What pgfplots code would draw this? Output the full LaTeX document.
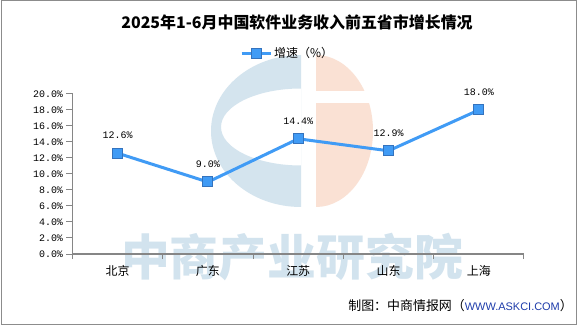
\documentclass[border=0pt]{standalone}
\usepackage{pgfplots}
\pgfplotsset{compat=1.18}
\usepackage{fontspec}
\setmainfont{Liberation Sans}
\newfontfamily\cjk{Noto Sans CJK SC}
\newfontfamily\mono{Liberation Mono}
\definecolor{lineblue}{RGB}{64,155,245}
\definecolor{markedge}{RGB}{52,115,190}
\definecolor{logoblue}{RGB}{212,228,238}
\definecolor{logopink}{RGB}{250,225,212}
\definecolor{wmblue}{RGB}{210,227,238}
\definecolor{axisgray}{RGB}{134,134,134}
\definecolor{framegray}{RGB}{140,140,140}
\definecolor{urlblue}{RGB}{30,60,170}
\begin{document}
\begin{tikzpicture}
\useasboundingbox (0,0) rectangle (585bp,327bp);
\fill[white] (0,0) rectangle (585bp,327bp);
% watermark logo
\fill[logoblue,even odd rule] (301bp,272bp) arc[start angle=90,end angle=270,x radius=90bp,y radius=76bp] -- cycle
  (301bp,238.5bp) arc[start angle=90,end angle=270,x radius=80bp,y radius=38.5bp] -- cycle;
\fill[logopink] (316bp,272bp) arc[start angle=90,end angle=-90,x radius=57bp,y radius=76bp] -- cycle;
\fill[white] (314bp,224bp) rectangle (376bp,236bp);
\node[text=wmblue, font=\cjk\bfseries\fontsize{49}{49}\selectfont, inner sep=0pt] at (292bp,70bp) {中商产业研究院};
\draw[framegray, line width=1bp] (1bp,2bp) rectangle (576bp,326bp);
\begin{axis}[
  at={(72.5bp,73bp)}, anchor=south west,
  scale only axis, width=451.5bp, height=160bp,
  xmin=-0.5, xmax=4.5, ymin=0, ymax=20,
  clip=false,
  axis x line*=bottom, axis y line*=left,
  axis line style={axisgray, line width=1.2bp},
  xtick={0,...,4}, xticklabels={北京,广东,江苏,山东,上海},
  minor xtick={-0.5,0.5,1.5,2.5,3.5,4.5},
  ytick={0,2,...,20},
  tick align=outside,
  major tick length=6bp, minor tick length=5bp,
  tick style={axisgray, line width=1bp},
  major x tick style={draw=none},
  /pgf/number format/assume math mode=true,
  yticklabel={\pgfmathprintnumber[fixed,fixed zerofill,precision=1]{\tick}\%},
  yticklabel style={font=\mono\fontsize{10}{12}\selectfont, text=black},
  xticklabel style={font=\cjk\fontsize{12}{14}\selectfont, text=black, yshift=-2bp},
  legend style={at={(0.371,1.256)}, anchor=west, draw=none, fill=none, inner sep=0pt,
    font=\cjk\fontsize{12}{14}\selectfont,
    /tikz/every even column/.append style={column sep=3bp}},
  legend image code/.code={\draw[mark repeat=2,mark phase=2,#1] plot coordinates {(0bp,0bp) (14.5bp,0bp) (29bp,0bp)};},
]
\addplot[color=lineblue, line width=3bp, mark=square*, mark size=5bp,
  mark options={fill=lineblue, draw=markedge, line width=1bp},
  point meta=y,
  nodes near coords={\pgfmathprintnumber[fixed,fixed zerofill,precision=1]{\pgfplotspointmeta}\%},
  every node near coord/.append style={font=\mono\fontsize{10}{12}\selectfont, text=black, anchor=center, yshift=18bp}]
  coordinates {(0,12.6) (1,9.0) (2,14.4) (3,12.9) (4,18.0)};
\addlegendentry{增速（\%）}
\end{axis}
\node[font=\cjk\bfseries\fontsize{16}{19}\selectfont] at (297bp,305bp) {2025年1-6月中国软件业务收入前五省市增长情况};
\node[anchor=east, inner sep=0pt] at (573bp,21bp) {\cjk\fontsize{13}{15}\selectfont 制图：中商情报网（{\rmfamily\fontsize{11}{13}\selectfont\color{urlblue}WWW.ASKCI.COM}）};
\end{tikzpicture}
\end{document}
